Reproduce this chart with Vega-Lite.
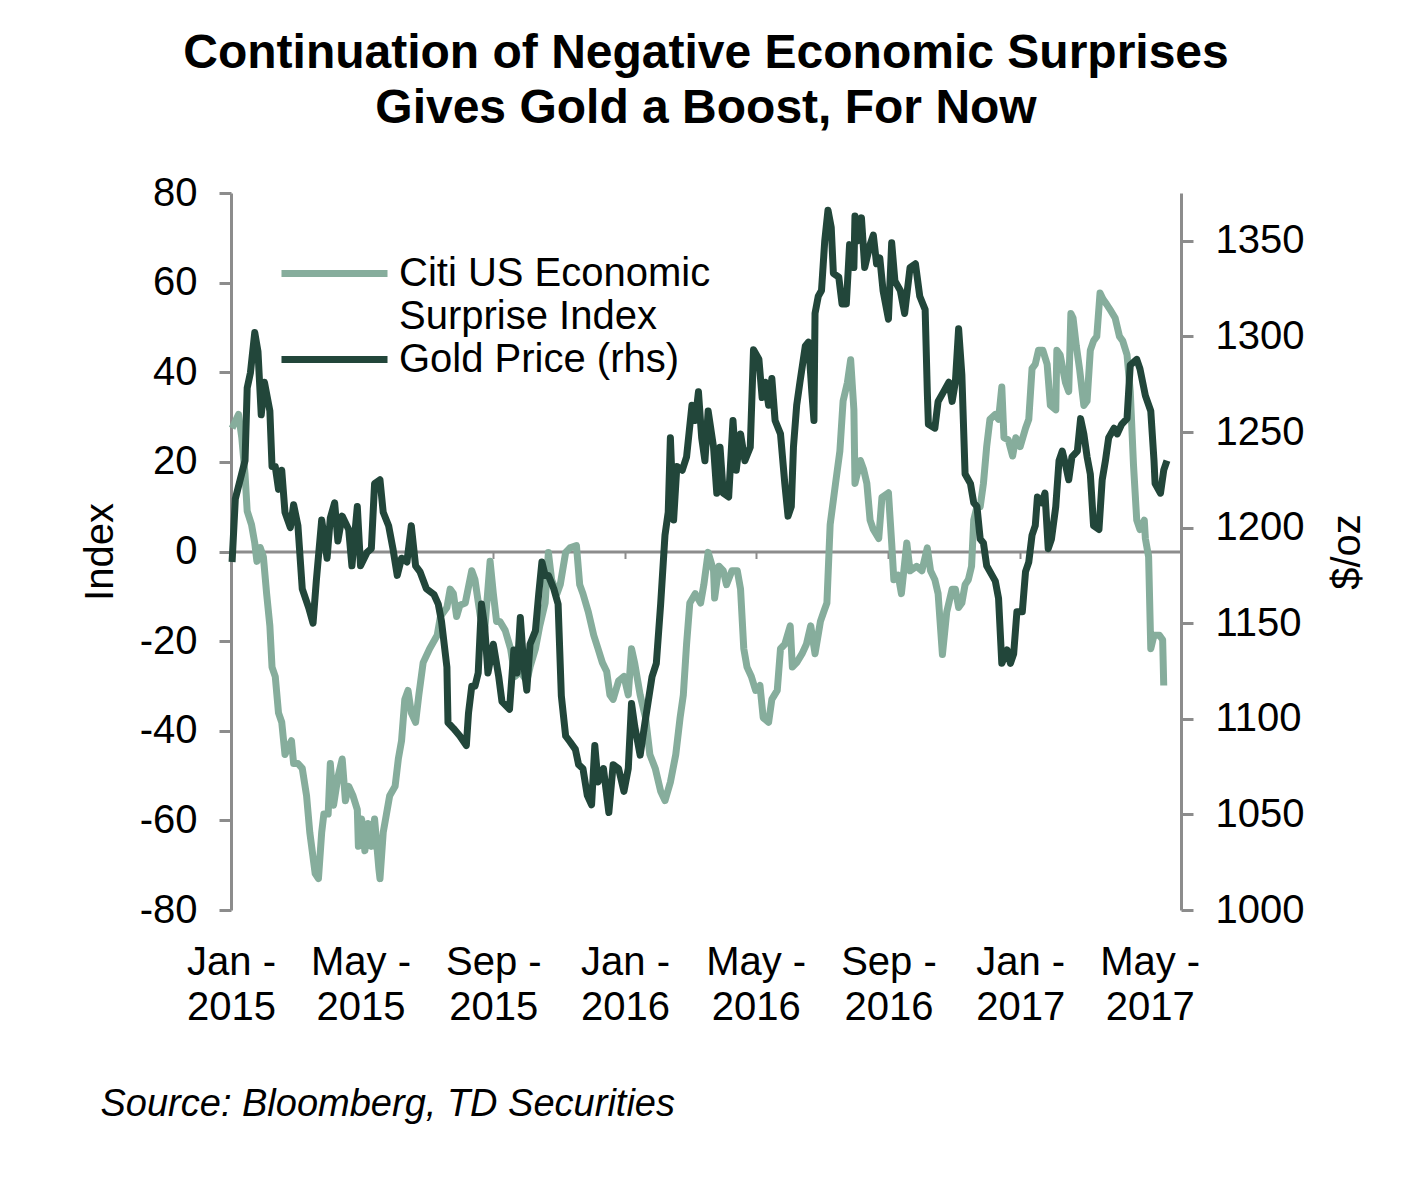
{
 "$schema": "https://vega.github.io/schema/vega-lite/v6.json",
 "width": 950,
 "height": 717,
 "autosize": {"type": "none"},
 "padding": {"left": 231, "top": 193, "right": 247, "bottom": 278},
 "background": "white",
 "config": {"font": "Liberation Sans", "view": {"stroke": null}},
 "title": {
  "text": ["Continuation of Negative Economic Surprises", "Gives Gold a Boost, For Now"],
  "fontSize": 48,
  "fontWeight": "bold",
  "color": "#000000",
  "anchor": "middle",
  "frame": "group",
  "lineHeight": 55,
  "offset": 40
 },
 "datasets": {
  "citi": [
   {"date": "2015-01-02", "value": 27.5},
   {"date": "2015-01-08", "value": 30.6},
   {"date": "2015-01-11", "value": 25.4},
   {"date": "2015-01-14", "value": 17.2},
   {"date": "2015-01-16", "value": 9},
   {"date": "2015-01-20", "value": 6},
   {"date": "2015-01-23", "value": 1.9},
   {"date": "2015-01-25", "value": -2.2},
   {"date": "2015-01-28", "value": 0.9},
   {"date": "2015-01-31", "value": -1.2},
   {"date": "2015-02-03", "value": -9.4},
   {"date": "2015-02-06", "value": -16.6},
   {"date": "2015-02-08", "value": -25.8},
   {"date": "2015-02-11", "value": -27.9},
   {"date": "2015-02-14", "value": -36},
   {"date": "2015-02-17", "value": -38.1},
   {"date": "2015-02-20", "value": -45.3},
   {"date": "2015-02-26", "value": -42.2},
   {"date": "2015-02-28", "value": -47.3},
   {"date": "2015-03-04", "value": -47.3},
   {"date": "2015-03-08", "value": -48.4},
   {"date": "2015-03-12", "value": -54.5},
   {"date": "2015-03-15", "value": -62.7},
   {"date": "2015-03-20", "value": -71.9},
   {"date": "2015-03-23", "value": -73},
   {"date": "2015-03-26", "value": -62.7},
   {"date": "2015-03-28", "value": -58.6},
   {"date": "2015-04-01", "value": -58.6},
   {"date": "2015-04-03", "value": -47.3},
   {"date": "2015-04-06", "value": -56.6},
   {"date": "2015-04-10", "value": -50.4},
   {"date": "2015-04-14", "value": -46.3},
   {"date": "2015-04-17", "value": -55.6},
   {"date": "2015-04-20", "value": -52.4},
   {"date": "2015-04-24", "value": -54.5},
   {"date": "2015-04-28", "value": -57.6},
   {"date": "2015-04-29", "value": -65.8},
   {"date": "2015-05-02", "value": -59.7},
   {"date": "2015-05-05", "value": -66.8},
   {"date": "2015-05-08", "value": -60.7},
   {"date": "2015-05-11", "value": -65.8},
   {"date": "2015-05-14", "value": -59.7},
   {"date": "2015-05-18", "value": -70.9},
   {"date": "2015-05-19", "value": -73},
   {"date": "2015-05-22", "value": -62.7},
   {"date": "2015-05-25", "value": -58.6},
   {"date": "2015-05-28", "value": -54.5},
   {"date": "2015-06-02", "value": -52.4},
   {"date": "2015-06-05", "value": -46.3},
   {"date": "2015-06-08", "value": -42.2},
   {"date": "2015-06-11", "value": -33},
   {"date": "2015-06-14", "value": -31},
   {"date": "2015-06-17", "value": -36},
   {"date": "2015-06-21", "value": -38.1},
   {"date": "2015-06-24", "value": -32},
   {"date": "2015-06-28", "value": -24.8},
   {"date": "2015-07-04", "value": -21.7},
   {"date": "2015-07-11", "value": -18.7},
   {"date": "2015-07-14", "value": -14.5},
   {"date": "2015-07-20", "value": -12.5},
   {"date": "2015-07-23", "value": -8.4},
   {"date": "2015-07-26", "value": -9.4},
   {"date": "2015-07-29", "value": -14.5},
   {"date": "2015-08-01", "value": -12},
   {"date": "2015-08-06", "value": -11.5},
   {"date": "2015-08-12", "value": -4.3},
   {"date": "2015-08-15", "value": -6.3},
   {"date": "2015-08-20", "value": -14.5},
   {"date": "2015-08-24", "value": -17.6},
   {"date": "2015-08-29", "value": -2.2},
   {"date": "2015-09-01", "value": -9.4},
   {"date": "2015-09-04", "value": -15.6},
   {"date": "2015-09-07", "value": -15.6},
   {"date": "2015-09-12", "value": -17.6},
   {"date": "2015-09-17", "value": -21.7},
   {"date": "2015-09-21", "value": -27.9},
   {"date": "2015-09-26", "value": -26.8},
   {"date": "2015-10-02", "value": -28.9},
   {"date": "2015-10-05", "value": -25.8},
   {"date": "2015-10-10", "value": -21.7},
   {"date": "2015-10-14", "value": -16.6},
   {"date": "2015-10-19", "value": -11.5},
   {"date": "2015-10-22", "value": -0.2},
   {"date": "2015-10-25", "value": -6.3},
   {"date": "2015-10-30", "value": -9.4},
   {"date": "2015-11-02", "value": -7.4},
   {"date": "2015-11-07", "value": -0.2},
   {"date": "2015-11-11", "value": 0.8},
   {"date": "2015-11-17", "value": 1.3},
   {"date": "2015-11-20", "value": -7.4},
   {"date": "2015-11-23", "value": -9.4},
   {"date": "2015-11-28", "value": -13.5},
   {"date": "2015-12-03", "value": -18.7},
   {"date": "2015-12-07", "value": -21.7},
   {"date": "2015-12-11", "value": -24.8},
   {"date": "2015-12-15", "value": -26.8},
   {"date": "2015-12-18", "value": -32},
   {"date": "2015-12-21", "value": -33},
   {"date": "2015-12-26", "value": -28.9},
   {"date": "2015-12-31", "value": -27.9},
   {"date": "2016-01-04", "value": -32},
   {"date": "2016-01-07", "value": -21.7},
   {"date": "2016-01-10", "value": -25},
   {"date": "2016-01-15", "value": -32},
   {"date": "2016-01-20", "value": -37.1},
   {"date": "2016-01-24", "value": -45.3},
   {"date": "2016-01-29", "value": -48.4},
   {"date": "2016-02-03", "value": -53.5},
   {"date": "2016-02-07", "value": -55.6},
   {"date": "2016-02-12", "value": -51.5},
   {"date": "2016-02-17", "value": -45.3},
   {"date": "2016-02-21", "value": -37.1},
   {"date": "2016-02-24", "value": -32},
   {"date": "2016-02-27", "value": -20.7},
   {"date": "2016-03-01", "value": -11.5},
   {"date": "2016-03-06", "value": -9.4},
   {"date": "2016-03-11", "value": -11.5},
   {"date": "2016-03-14", "value": -7.4},
   {"date": "2016-03-18", "value": -0.2},
   {"date": "2016-03-23", "value": -4.3},
   {"date": "2016-03-24", "value": -10.4},
   {"date": "2016-03-28", "value": -3.3},
   {"date": "2016-04-01", "value": -4.3},
   {"date": "2016-04-04", "value": -7.4},
   {"date": "2016-04-09", "value": -4.3},
   {"date": "2016-04-14", "value": -4.3},
   {"date": "2016-04-17", "value": -8.4},
   {"date": "2016-04-20", "value": -21.7},
   {"date": "2016-04-23", "value": -25.8},
   {"date": "2016-04-27", "value": -27.9},
   {"date": "2016-05-01", "value": -31},
   {"date": "2016-05-05", "value": -29.9},
   {"date": "2016-05-08", "value": -37.1},
   {"date": "2016-05-13", "value": -38.1},
   {"date": "2016-05-16", "value": -33},
   {"date": "2016-05-21", "value": -31},
   {"date": "2016-05-24", "value": -21.7},
   {"date": "2016-05-28", "value": -20.7},
   {"date": "2016-06-02", "value": -16.6},
   {"date": "2016-06-04", "value": -25.8},
   {"date": "2016-06-08", "value": -24.8},
   {"date": "2016-06-13", "value": -22.8},
   {"date": "2016-06-17", "value": -20.7},
   {"date": "2016-06-21", "value": -16.6},
   {"date": "2016-06-25", "value": -22.8},
   {"date": "2016-06-30", "value": -15.6},
   {"date": "2016-07-03", "value": -13.5},
   {"date": "2016-07-06", "value": -11.5},
   {"date": "2016-07-09", "value": 6},
   {"date": "2016-07-14", "value": 15.2},
   {"date": "2016-07-18", "value": 22.4},
   {"date": "2016-07-21", "value": 33.6},
   {"date": "2016-07-25", "value": 37.7},
   {"date": "2016-07-28", "value": 42.8},
   {"date": "2016-07-31", "value": 31.6},
   {"date": "2016-08-01", "value": 15.2},
   {"date": "2016-08-06", "value": 20.3},
   {"date": "2016-08-09", "value": 18.3},
   {"date": "2016-08-12", "value": 15.2},
   {"date": "2016-08-15", "value": 7},
   {"date": "2016-08-18", "value": 4.9},
   {"date": "2016-08-23", "value": 2.9},
   {"date": "2016-08-26", "value": 12.1},
   {"date": "2016-09-01", "value": 13.1},
   {"date": "2016-09-04", "value": 1.9},
   {"date": "2016-09-06", "value": -6.3},
   {"date": "2016-09-10", "value": -5.3},
   {"date": "2016-09-13", "value": -9.4},
   {"date": "2016-09-18", "value": 1.9},
   {"date": "2016-09-21", "value": -4.3},
   {"date": "2016-09-27", "value": -3.3},
   {"date": "2016-10-02", "value": -4.3},
   {"date": "2016-10-07", "value": 0.8},
   {"date": "2016-10-10", "value": -4.3},
   {"date": "2016-10-14", "value": -6.3},
   {"date": "2016-10-17", "value": -9.4},
   {"date": "2016-10-21", "value": -23},
   {"date": "2016-10-25", "value": -13.5},
   {"date": "2016-10-30", "value": -8.4},
   {"date": "2016-11-02", "value": -8.4},
   {"date": "2016-11-05", "value": -12.5},
   {"date": "2016-11-08", "value": -11.5},
   {"date": "2016-11-11", "value": -7.4},
   {"date": "2016-11-14", "value": -6.3},
   {"date": "2016-11-17", "value": -3.3},
   {"date": "2016-11-19", "value": 7},
   {"date": "2016-11-22", "value": 10},
   {"date": "2016-11-25", "value": 10},
   {"date": "2016-11-28", "value": 15.2},
   {"date": "2016-12-01", "value": 23.4},
   {"date": "2016-12-04", "value": 29.5},
   {"date": "2016-12-09", "value": 30.6},
   {"date": "2016-12-12", "value": 29.5},
   {"date": "2016-12-15", "value": 36.7},
   {"date": "2016-12-17", "value": 25.4},
   {"date": "2016-12-21", "value": 24.9},
   {"date": "2016-12-25", "value": 21.3},
   {"date": "2016-12-28", "value": 25.4},
   {"date": "2017-01-01", "value": 23.4},
   {"date": "2017-01-06", "value": 27.5},
   {"date": "2017-01-09", "value": 29.5},
   {"date": "2017-01-12", "value": 40.8},
   {"date": "2017-01-15", "value": 41.8},
   {"date": "2017-01-18", "value": 44.9},
   {"date": "2017-01-22", "value": 44.9},
   {"date": "2017-01-26", "value": 41.8},
   {"date": "2017-01-29", "value": 32.6},
   {"date": "2017-02-03", "value": 31.6},
   {"date": "2017-02-04", "value": 44.9},
   {"date": "2017-02-07", "value": 43.9},
   {"date": "2017-02-12", "value": 37.7},
   {"date": "2017-02-15", "value": 35.7},
   {"date": "2017-02-17", "value": 53.1},
   {"date": "2017-02-19", "value": 52.1},
   {"date": "2017-02-22", "value": 45.9},
   {"date": "2017-02-25", "value": 40.8},
   {"date": "2017-03-01", "value": 32.6},
   {"date": "2017-03-04", "value": 33.6},
   {"date": "2017-03-07", "value": 44.9},
   {"date": "2017-03-10", "value": 47},
   {"date": "2017-03-13", "value": 48},
   {"date": "2017-03-16", "value": 57.7},
   {"date": "2017-03-19", "value": 56.2},
   {"date": "2017-03-22", "value": 55.2},
   {"date": "2017-03-25", "value": 54.1},
   {"date": "2017-03-30", "value": 52.1},
   {"date": "2017-04-03", "value": 48},
   {"date": "2017-04-06", "value": 47},
   {"date": "2017-04-10", "value": 43.9},
   {"date": "2017-04-13", "value": 35.7},
   {"date": "2017-04-16", "value": 19.3},
   {"date": "2017-04-19", "value": 7},
   {"date": "2017-04-22", "value": 4.9},
   {"date": "2017-04-26", "value": 7},
   {"date": "2017-04-27", "value": 2.9},
   {"date": "2017-04-30", "value": -1.2},
   {"date": "2017-05-02", "value": -21.7},
   {"date": "2017-05-05", "value": -18.7},
   {"date": "2017-05-10", "value": -18.7},
   {"date": "2017-05-13", "value": -19.7},
   {"date": "2017-05-14", "value": -29.9}
  ],
  "gold": [
   {"date": "2015-01-02", "value": 1182},
   {"date": "2015-01-05", "value": 1215},
   {"date": "2015-01-14", "value": 1235},
   {"date": "2015-01-16", "value": 1273},
   {"date": "2015-01-19", "value": 1281},
   {"date": "2015-01-23", "value": 1302},
   {"date": "2015-01-26", "value": 1292},
   {"date": "2015-01-29", "value": 1259},
   {"date": "2015-02-01", "value": 1276},
   {"date": "2015-02-06", "value": 1261},
   {"date": "2015-02-08", "value": 1232},
   {"date": "2015-02-11", "value": 1232},
   {"date": "2015-02-14", "value": 1220},
   {"date": "2015-02-17", "value": 1230},
   {"date": "2015-02-20", "value": 1208},
   {"date": "2015-02-25", "value": 1200},
   {"date": "2015-02-28", "value": 1212},
   {"date": "2015-03-04", "value": 1201},
   {"date": "2015-03-08", "value": 1168},
   {"date": "2015-03-14", "value": 1158},
   {"date": "2015-03-18", "value": 1150},
   {"date": "2015-03-21", "value": 1172},
   {"date": "2015-03-26", "value": 1204},
   {"date": "2015-03-31", "value": 1184},
   {"date": "2015-04-03", "value": 1205},
   {"date": "2015-04-07", "value": 1213},
   {"date": "2015-04-10", "value": 1193},
   {"date": "2015-04-14", "value": 1206},
   {"date": "2015-04-20", "value": 1199},
   {"date": "2015-04-23", "value": 1180},
   {"date": "2015-04-28", "value": 1211},
   {"date": "2015-05-01", "value": 1180},
   {"date": "2015-05-07", "value": 1187},
   {"date": "2015-05-11", "value": 1189},
   {"date": "2015-05-14", "value": 1223},
   {"date": "2015-05-19", "value": 1225},
   {"date": "2015-05-22", "value": 1208},
   {"date": "2015-05-27", "value": 1201},
   {"date": "2015-05-31", "value": 1189},
   {"date": "2015-06-04", "value": 1175},
   {"date": "2015-06-08", "value": 1184},
   {"date": "2015-06-13", "value": 1182},
   {"date": "2015-06-17", "value": 1201},
   {"date": "2015-06-21", "value": 1180},
   {"date": "2015-06-25", "value": 1177},
   {"date": "2015-07-01", "value": 1168},
   {"date": "2015-07-08", "value": 1165},
   {"date": "2015-07-12", "value": 1160},
   {"date": "2015-07-15", "value": 1151},
   {"date": "2015-07-20", "value": 1127},
   {"date": "2015-07-21", "value": 1098},
   {"date": "2015-07-26", "value": 1095},
   {"date": "2015-08-01", "value": 1091},
   {"date": "2015-08-07", "value": 1086},
   {"date": "2015-08-09", "value": 1103},
   {"date": "2015-08-12", "value": 1117},
   {"date": "2015-08-15", "value": 1117},
   {"date": "2015-08-18", "value": 1124},
   {"date": "2015-08-21", "value": 1160},
   {"date": "2015-08-24", "value": 1148},
   {"date": "2015-08-27", "value": 1124},
   {"date": "2015-09-01", "value": 1139},
   {"date": "2015-09-06", "value": 1122},
   {"date": "2015-09-09", "value": 1109},
   {"date": "2015-09-16", "value": 1105},
   {"date": "2015-09-20", "value": 1136},
   {"date": "2015-09-23", "value": 1124},
   {"date": "2015-09-26", "value": 1153},
   {"date": "2015-09-29", "value": 1129},
   {"date": "2015-10-02", "value": 1115},
   {"date": "2015-10-05", "value": 1139},
   {"date": "2015-10-10", "value": 1146},
   {"date": "2015-10-13", "value": 1165},
   {"date": "2015-10-16", "value": 1182},
   {"date": "2015-10-19", "value": 1175},
   {"date": "2015-10-22", "value": 1175},
   {"date": "2015-10-27", "value": 1168},
   {"date": "2015-10-31", "value": 1160},
   {"date": "2015-11-03", "value": 1112},
   {"date": "2015-11-07", "value": 1091},
   {"date": "2015-11-11", "value": 1088},
   {"date": "2015-11-16", "value": 1084},
   {"date": "2015-11-19", "value": 1076},
   {"date": "2015-11-23", "value": 1074},
   {"date": "2015-11-27", "value": 1060},
   {"date": "2015-12-01", "value": 1055},
   {"date": "2015-12-04", "value": 1086},
   {"date": "2015-12-07", "value": 1067},
   {"date": "2015-12-12", "value": 1074},
   {"date": "2015-12-17", "value": 1051},
   {"date": "2015-12-21", "value": 1076},
   {"date": "2015-12-26", "value": 1074},
   {"date": "2015-12-31", "value": 1062},
   {"date": "2016-01-04", "value": 1074},
   {"date": "2016-01-07", "value": 1108},
   {"date": "2016-01-10", "value": 1096},
   {"date": "2016-01-15", "value": 1081},
   {"date": "2016-01-20", "value": 1100},
   {"date": "2016-01-26", "value": 1122},
   {"date": "2016-01-30", "value": 1129},
   {"date": "2016-02-03", "value": 1160},
   {"date": "2016-02-07", "value": 1196},
   {"date": "2016-02-10", "value": 1208},
   {"date": "2016-02-12", "value": 1247},
   {"date": "2016-02-15", "value": 1204},
   {"date": "2016-02-18", "value": 1232},
   {"date": "2016-02-23", "value": 1230},
   {"date": "2016-02-27", "value": 1237},
   {"date": "2016-03-03", "value": 1264},
   {"date": "2016-03-06", "value": 1256},
   {"date": "2016-03-09", "value": 1271},
   {"date": "2016-03-12", "value": 1247},
   {"date": "2016-03-15", "value": 1235},
   {"date": "2016-03-18", "value": 1261},
   {"date": "2016-03-23", "value": 1242},
   {"date": "2016-03-26", "value": 1218},
   {"date": "2016-03-29", "value": 1242},
   {"date": "2016-04-01", "value": 1218},
   {"date": "2016-04-06", "value": 1216},
   {"date": "2016-04-10", "value": 1256},
   {"date": "2016-04-13", "value": 1230},
   {"date": "2016-04-17", "value": 1249},
   {"date": "2016-04-21", "value": 1235},
   {"date": "2016-04-26", "value": 1242},
   {"date": "2016-04-29", "value": 1293},
   {"date": "2016-05-04", "value": 1288},
   {"date": "2016-05-07", "value": 1268},
   {"date": "2016-05-10", "value": 1276},
   {"date": "2016-05-13", "value": 1264},
   {"date": "2016-05-16", "value": 1278},
   {"date": "2016-05-19", "value": 1256},
   {"date": "2016-05-24", "value": 1249},
   {"date": "2016-05-28", "value": 1223},
   {"date": "2016-05-31", "value": 1206},
   {"date": "2016-06-03", "value": 1211},
   {"date": "2016-06-05", "value": 1242},
   {"date": "2016-06-08", "value": 1264},
   {"date": "2016-06-11", "value": 1276},
   {"date": "2016-06-16", "value": 1295},
   {"date": "2016-06-19", "value": 1297},
   {"date": "2016-06-22", "value": 1271},
   {"date": "2016-06-24", "value": 1256},
   {"date": "2016-06-25", "value": 1312},
   {"date": "2016-06-28", "value": 1321},
   {"date": "2016-07-01", "value": 1324},
   {"date": "2016-07-04", "value": 1350},
   {"date": "2016-07-07", "value": 1366},
   {"date": "2016-07-10", "value": 1357},
   {"date": "2016-07-12", "value": 1333},
   {"date": "2016-07-17", "value": 1331},
   {"date": "2016-07-20", "value": 1317},
   {"date": "2016-07-24", "value": 1317},
   {"date": "2016-07-27", "value": 1348},
   {"date": "2016-07-31", "value": 1336},
   {"date": "2016-08-01", "value": 1363},
   {"date": "2016-08-04", "value": 1350},
   {"date": "2016-08-07", "value": 1362},
   {"date": "2016-08-10", "value": 1336},
   {"date": "2016-08-15", "value": 1348},
   {"date": "2016-08-18", "value": 1353},
   {"date": "2016-08-21", "value": 1338},
   {"date": "2016-08-24", "value": 1341},
   {"date": "2016-08-27", "value": 1324},
   {"date": "2016-09-01", "value": 1309},
   {"date": "2016-09-04", "value": 1349},
   {"date": "2016-09-07", "value": 1329},
   {"date": "2016-09-12", "value": 1324},
   {"date": "2016-09-16", "value": 1312},
   {"date": "2016-09-21", "value": 1336},
   {"date": "2016-09-26", "value": 1338},
   {"date": "2016-09-30", "value": 1321},
   {"date": "2016-10-05", "value": 1314},
   {"date": "2016-10-07", "value": 1271},
   {"date": "2016-10-08", "value": 1254},
   {"date": "2016-10-14", "value": 1252},
   {"date": "2016-10-17", "value": 1266},
   {"date": "2016-10-22", "value": 1271},
   {"date": "2016-10-27", "value": 1276},
   {"date": "2016-10-30", "value": 1266},
   {"date": "2016-11-02", "value": 1276},
   {"date": "2016-11-05", "value": 1304},
   {"date": "2016-11-08", "value": 1280},
   {"date": "2016-11-11", "value": 1228},
   {"date": "2016-11-16", "value": 1223},
   {"date": "2016-11-19", "value": 1213},
   {"date": "2016-11-22", "value": 1211},
   {"date": "2016-11-25", "value": 1194},
   {"date": "2016-11-28", "value": 1192},
   {"date": "2016-12-01", "value": 1180},
   {"date": "2016-12-06", "value": 1175},
   {"date": "2016-12-09", "value": 1172},
   {"date": "2016-12-12", "value": 1163},
   {"date": "2016-12-15", "value": 1129},
   {"date": "2016-12-20", "value": 1136},
   {"date": "2016-12-23", "value": 1129},
   {"date": "2016-12-26", "value": 1134},
   {"date": "2016-12-29", "value": 1156},
   {"date": "2017-01-03", "value": 1156},
   {"date": "2017-01-06", "value": 1177},
   {"date": "2017-01-09", "value": 1182},
   {"date": "2017-01-12", "value": 1196},
   {"date": "2017-01-15", "value": 1201},
   {"date": "2017-01-17", "value": 1216},
   {"date": "2017-01-21", "value": 1213},
   {"date": "2017-01-24", "value": 1218},
   {"date": "2017-01-27", "value": 1189},
   {"date": "2017-01-30", "value": 1194},
   {"date": "2017-02-03", "value": 1211},
   {"date": "2017-02-06", "value": 1235},
   {"date": "2017-02-09", "value": 1240},
   {"date": "2017-02-12", "value": 1233},
   {"date": "2017-02-15", "value": 1225},
   {"date": "2017-02-18", "value": 1237},
   {"date": "2017-02-23", "value": 1240},
   {"date": "2017-02-26", "value": 1257},
   {"date": "2017-03-01", "value": 1249},
   {"date": "2017-03-04", "value": 1237},
   {"date": "2017-03-07", "value": 1228},
   {"date": "2017-03-10", "value": 1201},
   {"date": "2017-03-15", "value": 1199},
   {"date": "2017-03-18", "value": 1225},
   {"date": "2017-03-21", "value": 1235},
   {"date": "2017-03-24", "value": 1247},
   {"date": "2017-03-29", "value": 1252},
   {"date": "2017-04-01", "value": 1249},
   {"date": "2017-04-05", "value": 1254},
   {"date": "2017-04-10", "value": 1257},
   {"date": "2017-04-13", "value": 1285},
   {"date": "2017-04-19", "value": 1288},
   {"date": "2017-04-22", "value": 1283},
   {"date": "2017-04-27", "value": 1269},
   {"date": "2017-05-02", "value": 1261},
   {"date": "2017-05-05", "value": 1235},
   {"date": "2017-05-06", "value": 1223},
   {"date": "2017-05-11", "value": 1218},
   {"date": "2017-05-14", "value": 1230},
   {"date": "2017-05-17", "value": 1235}
  ]
 },
 "layer": [
  {
   "data": {"name": "citi"},
   "mark": {"type": "line", "strokeWidth": 7, "strokeJoin": "round"},
   "encoding": {
    "x": {
     "field": "date",
     "type": "temporal",
     "scale": {"domain": [{"year": 2015, "month": 1, "date": 1}, {"year": 2017, "month": 5, "date": 30}]},
     "axis": {
      "orient": "bottom",
      "offset": -358.5,
      "labels": false,
      "title": null,
      "grid": false,
      "tickCount": {"interval": "month", "step": 4},
      "domainColor": "#8c8c8c",
      "domainWidth": 3,
      "tickColor": "#8c8c8c",
      "tickWidth": 2,
      "tickSize": 7
     }
    },
    "y": {
     "field": "value",
     "type": "quantitative",
     "scale": {"domain": [-80, 80], "nice": false, "zero": false},
     "axis": {
      "orient": "left",
      "values": [-80, -60, -40, -20, 0, 20, 40, 60, 80],
      "labelExpr": "'' + datum.value",
      "title": "Index",
      "titleFontSize": 40,
      "titleFontWeight": "normal",
      "titleColor": "#000000",
      "titlePadding": 19,
      "labelFontSize": 40,
      "labelColor": "#000000",
      "labelPadding": 22,
      "tickSize": 12,
      "tickWidth": 3,
      "tickColor": "#8c8c8c",
      "domainColor": "#8c8c8c",
      "domainWidth": 3,
      "grid": false
     }
    },
    "color": {
     "datum": "Citi US Economic Surprise Index",
     "type": "nominal",
     "scale": {
      "domain": ["Citi US Economic Surprise Index", "Surprise Index", "Gold Price (rhs)"],
      "range": ["#86ad9c", "rgba(0,0,0,0)", "#22463a"]
     },
     "legend": {
      "orient": "none",
      "legendX": 81,
      "legendY": 58,
      "title": null,
      "padding": 0,
      "symbolType": "M-2.79,0H2.79",
      "symbolSize": 1444,
      "symbolStrokeWidth": 7,
      "labelFontSize": 40,
      "labelColor": "#000000",
      "labelOffset": 42,
      "labelLimit": 800,
      "rowPadding": 0,
      "labelExpr": "datum.label == 'Citi US Economic Surprise Index' ? 'Citi US Economic' : datum.label"
     }
    }
   }
  },
  {
   "data": {"name": "gold"},
   "mark": {"type": "line", "strokeWidth": 7, "strokeJoin": "round"},
   "encoding": {
    "x": {
     "field": "date",
     "type": "temporal",
     "axis": {
      "orient": "bottom",
      "domain": false,
      "ticks": false,
      "grid": false,
      "tickCount": {"interval": "month", "step": 4},
      "labelExpr": "[timeFormat(datum.value, '%b -'), timeFormat(datum.value, '%Y')]",
      "labelFontSize": 40,
      "labelColor": "#000000",
      "labelLineHeight": 45,
      "labelPadding": 32,
      "labelFlush": false,
      "labelOverlap": false,
      "labelBound": false,
      "title": "Source: Bloomberg, TD Securities",
      "titleFontSize": 38,
      "titleFontStyle": "italic",
      "titleFontWeight": "normal",
      "titleColor": "#000000",
      "titleAnchor": "start",
      "titleAlign": "left",
      "titleBaseline": "alphabetic",
      "titleX": -131,
      "titleY": 205
     }
    },
    "y": {
     "field": "value",
     "type": "quantitative",
     "scale": {"domain": [1000, 1375], "nice": false, "zero": false},
     "axis": {
      "orient": "right",
      "values": [1000, 1050, 1100, 1150, 1200, 1250, 1300, 1350],
      "format": "d",
      "title": "$/oz",
      "titleAngle": -90,
      "titleBaseline": "top",
      "titleFontSize": 40,
      "titleFontWeight": "normal",
      "titleColor": "#000000",
      "titlePadding": 24,
      "labelFontSize": 40,
      "labelColor": "#000000",
      "labelPadding": 22,
      "tickSize": 12,
      "tickWidth": 3,
      "tickColor": "#8c8c8c",
      "domainColor": "#8c8c8c",
      "domainWidth": 3,
      "grid": false
     }
    },
    "color": {"datum": "Gold Price (rhs)", "type": "nominal"}
   }
  }
 ],
 "resolve": {"scale": {"y": "independent"}, "axis": {"x": "independent", "y": "independent"}}
}
